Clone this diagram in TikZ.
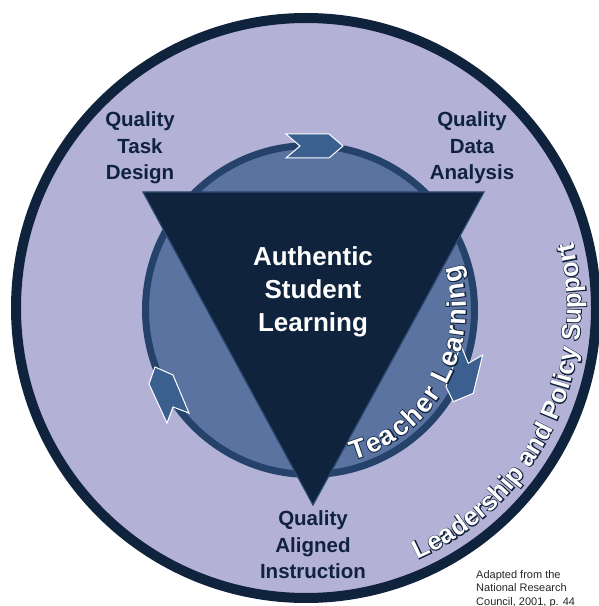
\documentclass[tikz,border=0pt]{standalone}
\usepackage{fontspec}
\setmainfont{Liberation Sans}
\newfontfamily\outlinefont[FakeBold=6]{Liberation Sans}
\usetikzlibrary{decorations.text}
\definecolor{lav}{HTML}{B3B1D6}
\definecolor{navy}{HTML}{10233D}
\definecolor{midblue}{HTML}{5B73A0}
\definecolor{ringblue}{HTML}{24426A}
\definecolor{chev}{HTML}{3B6090}
\definecolor{triedge}{HTML}{2B4A70}
\newcommand\ringtext[7]{%
  \path[decorate, decoration={text along path, text color=navy, text align={fit to path},
    text={|\color{navy}\outlinefont\bfseries\fontsize{#6}{#6}\selectfont|#7}}]
    (#1,#2) ++(#4:#3pt) arc[start angle=#4, end angle=#5, radius=#3pt];
  \path[decorate, decoration={text along path, text color=white, text align={fit to path},
    text={|\color{white}\bfseries\fontsize{#6}{#6}\selectfont|#7}}]
    (#1,#2) ++(#4:#3pt) arc[start angle=#4, end angle=#5, radius=#3pt];
}
\begin{document}
\begin{tikzpicture}[x=1pt,y=1pt,
  qlabel/.style={font=\bfseries\fontsize{20.5}{26.5}\selectfont, text=navy, align=center, inner sep=0},
  chevron/.style={fill=chev, draw=white, line width=1pt, line join=miter}]
\useasboundingbox (0,0) rectangle (599,606);
\clip (0,0) rectangle (599,606);
% outer circle
\node[circle, draw=navy, line width=10pt, fill=lav, minimum size=580pt, inner sep=0] (outer) at (306,298) {};
% inner circle
\node[circle, draw=ringblue, line width=7pt, fill=midblue, minimum size=329pt, inner sep=0] (inner) at (310,296) {};
% triangle
\coordinate (t1) at (143,414);
\coordinate (t2) at (484,414);
\coordinate (t3) at (313,101);
\draw[fill=navy, draw=triedge, line width=1.2pt, line join=miter] (t1) -- (t2) -- (t3) -- cycle;
% chevrons
\draw[chevron] (286,472) -- (329,472) -- (343,460) -- (329,448) -- (286,448) -- (300,460) -- cycle;
\draw[chevron] (460.7,261) -- (468.3,242.7) -- (482.7,251) -- (473.3,212.7) -- (453.3,204.3) -- (446,219.3) -- cycle;
\draw[chevron] (155,239) -- (173,231) -- (189,193) -- (173,199) -- (167,183) -- (149,222) -- cycle;
% texts
\node[font=\bfseries\fontsize{26}{33}\selectfont, text=white, align=center, inner sep=0] (core) at (313,314) {Authentic\\Student\\Learning};
\node[qlabel] (td) at (140,458) {Quality\\Task\\Design};
\node[qlabel] (da) at (472,458) {Quality\\Data\\Analysis};
\node[qlabel] (ai) at (313,61) {Quality\\Aligned\\Instruction};
\node[anchor=base west, font=\fontsize{11}{13.5}\selectfont, text=black!85, align=left, inner sep=0] (src) at (476,0.5) {Adapted from the\\National Research\\Council, 2001, p. 44};
% curved texts
\ringtext{310}{296}{156}{-74}{17}{27}{Teacher Learning}
\ringtext{306}{298}{275}{-66}{13}{26}{Leadership and Policy Support}
\end{tikzpicture}
\end{document}
